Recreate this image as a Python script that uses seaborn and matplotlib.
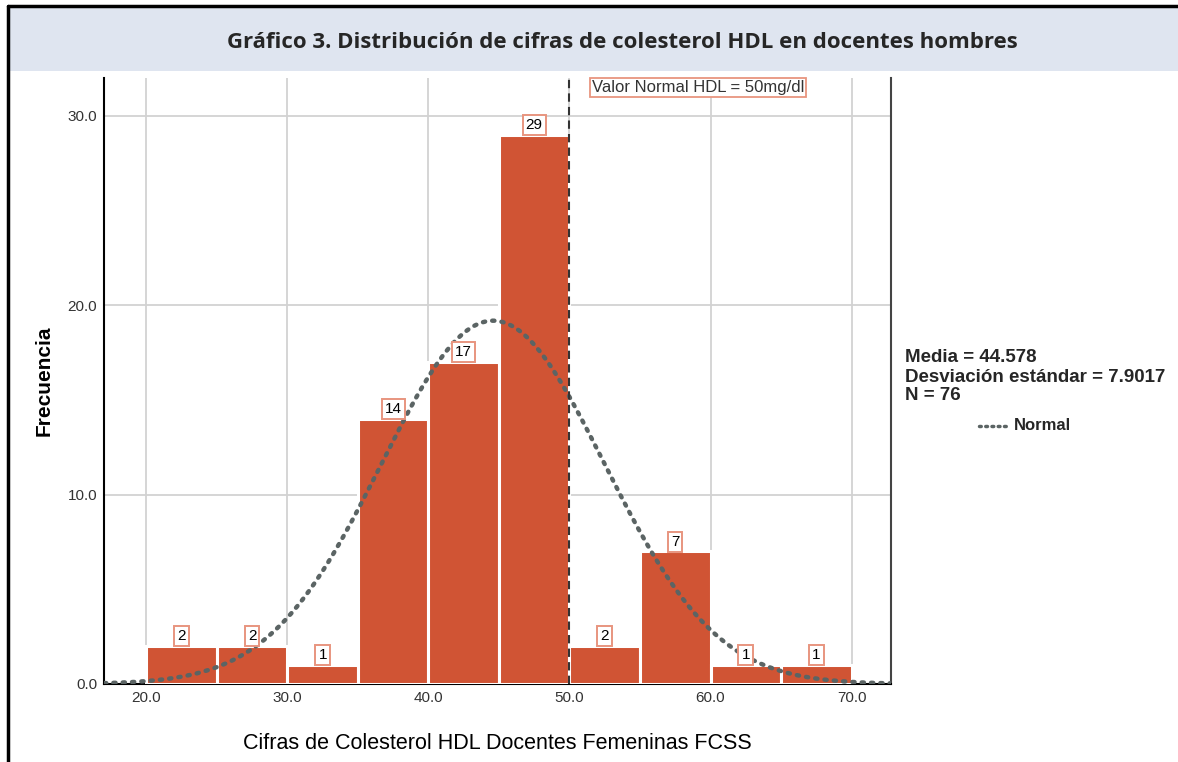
import numpy as np
import pandas as pd
import matplotlib
matplotlib.use("Agg")
import matplotlib.pyplot as plt
from matplotlib.lines import Line2D
from matplotlib.patches import Rectangle
import seaborn as sns

# data
bin_edges = [20, 25, 30, 35, 40, 45, 50, 55, 60, 65, 70]
counts = [2, 2, 1, 14, 17, 29, 2, 7, 1, 1]
media = 44.578
desv = 7.9017
n_total = 76
valor_normal = 50

titulo = "Gráfico 3. Distribución de cifras de colesterol HDL en docentes hombres"
x_label = "Cifras de Colesterol HDL Docentes Femeninas FCSS"
y_label = "Frecuencia"
x_ticks = [20, 30, 40, 50, 60, 70]
y_ticks = [0, 10, 20, 30]

centers = [(a + b) / 2 for a, b in zip(bin_edges[:-1], bin_edges[1:])]
df = pd.DataFrame({"hdl": centers, "n": counts})

sns.set_theme(style="white")
plt.rcParams['font.family'] = ['Liberation Sans', 'DejaVu Sans']

fig = plt.figure(figsize=(11.78, 7.62), dpi=100)
ax = fig.add_axes([0.0883, 0.1024, 0.6681, 0.7952])

bar_col = "#D05434"
sns.histplot(data=df, x="hdl", weights="n", bins=bin_edges, ax=ax,
             color=bar_col, alpha=1, edgecolor="white", linewidth=2.2, zorder=3)

# normal curve scaled to counts
bw = bin_edges[1] - bin_edges[0]
xs = np.linspace(17, 73, 400)
ys = n_total * bw * np.exp(-0.5 * ((xs - media) / desv) ** 2) / (desv * np.sqrt(2 * np.pi))
sns.lineplot(x=xs, y=ys, ax=ax, color="#5B6464", linewidth=3.2,
             linestyle=(0, (0.5, 1.6)), zorder=5)
ax.lines[-1].set_dash_capstyle("round")

ax.axvline(valor_normal, color="#333333", linestyle=(0, (4, 2.5)), linewidth=1.5, zorder=6)

ax.set_xlim(17, 72.8)
ax.set_ylim(0, 32)
ax.set_xticks(x_ticks)
ax.set_xticklabels([f"{t:.1f}" for t in x_ticks], fontsize=11, color="#333333")
ax.set_yticks(y_ticks)
ax.set_yticklabels([f"{t:.1f}" for t in y_ticks], fontsize=11, color="#333333")
ax.tick_params(length=0, pad=5)
ax.grid(True, color="#D2D2D2", linewidth=1.3, zorder=0)
ax.set_axisbelow(True)
ax.set_xlabel(x_label, fontsize=15.5, labelpad=20, color="black")
ax.set_ylabel(y_label, fontsize=15, fontweight="bold", labelpad=10, color="black")
ax.spines["top"].set_visible(False)
ax.spines["left"].set_color("black")
ax.spines["bottom"].set_color("black")
ax.spines["right"].set_color("#444444")
for s in ["left", "bottom", "right"]:
    ax.spines[s].set_linewidth(1.5)

# count labels
for c, v in zip(centers, counts):
    ax.annotate(str(v), (c, v), xytext=(0, 2), textcoords="offset points",
                ha="center", va="bottom", fontsize=11, color="black", zorder=7,
                bbox=dict(boxstyle="square,pad=0.2", fc="white", ec="#E8957F", lw=1.4))

ax.text(51.6, 31.5, "Valor Normal HDL = 50mg/dl", ha="left", va="center", fontsize=12,
        color="#333333", zorder=7,
        bbox=dict(boxstyle="square,pad=0.1", fc="white", ec="#E8957F", lw=1.3))

# stats legend on the right
fig.text(905 / 1178, 1 - 357 / 762, f"Media = {media}", fontsize=13.5, fontweight="bold", va="center")
fig.text(905 / 1178, 1 - 377 / 762, f"Desviación estándar = {desv}", fontsize=13.5, fontweight="bold", va="center")
fig.text(905 / 1178, 1 - 396 / 762, f"N = {n_total}", fontsize=13.5, fontweight="bold", va="center")
leg_y = 1 - 426 / 762
fig.add_artist(Line2D([979 / 1178, 1008 / 1178], [leg_y, leg_y], color="#5B6464", lw=2.5,
                      linestyle=(0, (0.5, 1.3)), dash_capstyle="round"))
fig.text(1014 / 1178, leg_y, "Normal", fontsize=12, fontweight="bold", va="center")

# banner and frame
fig.add_artist(Rectangle((8 / 1178, 1 - 71 / 762), 1, 63 / 762, transform=fig.transFigure,
                         fc="#DFE5F0", ec="none", zorder=0))
fig.text(622 / 1178, 1 - 42 / 762, titulo, ha="center", va="center", fontsize=16,
         fontweight="bold", family=["Open Sans", "DejaVu Sans"])
fig.add_artist(Line2D([8 / 1178, 1], [1 - 6 / 762, 1 - 6 / 762], color="black", lw=2.5))
fig.add_artist(Line2D([8 / 1178, 8 / 1178], [0, 1 - 6 / 762], color="black", lw=2.5))

fig.savefig("out.png", dpi=100)
